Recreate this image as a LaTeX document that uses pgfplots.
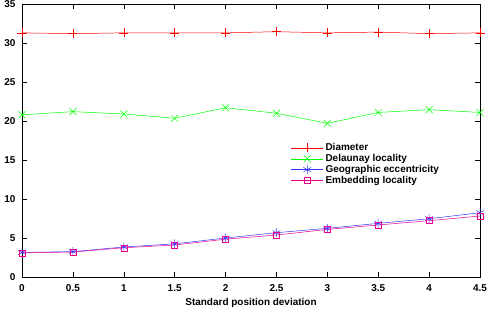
\documentclass[border=0pt]{standalone}
\usepackage{fontspec}
\setmainfont{Liberation Sans}
\usepackage{pgfplots}
\pgfplotsset{compat=1.18}
\begin{document}
\begin{tikzpicture}
\begin{axis}[
  name=main,
  scale only axis,
  width=458bp, height=273bp,
  xmin=0, xmax=4.5, ymin=0, ymax=35,
  xtick={0,0.5,...,4.5},
  xticklabels={0,0.5,1,1.5,2,2.5,3,3.5,4,4.5},
  ytick={0,5,...,35},
  tick align=inside,
  major tick length=5bp,
  axis line style={black, line width=0.6pt},
  tick style={black, line width=0.5pt},
  /pgf/number format/assume math mode=true,
  ticklabel style={font=\fontsize{10}{12}\selectfont\bfseries},
  xticklabel style={yshift=-4bp},
  yticklabel style={xshift=-3bp},
  xlabel={Standard position deviation},
  xlabel style={font=\fontsize{10}{12}\selectfont\bfseries, yshift=0bp},
  legend style={draw=none, fill=none, at={(rel axis cs:0.587,0.497)}, anchor=north west,
    font=\fontsize{10}{11}\selectfont\bfseries, row sep=-1.8bp, inner sep=0pt},
  legend cell align=left,
  legend image code/.code={
    \draw[#1, mark repeat=2, mark phase=2] plot coordinates {(0bp,0bp) (16bp,0bp) (32bp,0bp)};
  },
  every axis plot/.append style={line width=0.5pt, mark size=4.5bp},
  clip=false,
]
\addplot[color=red, mark=+, mark options={solid}] coordinates {
(0,31.3) (0.5,31.2) (1,31.3) (1.5,31.3) (2,31.3) (2.5,31.45) (3,31.3) (3.5,31.4) (4,31.2) (4.5,31.3)};
\addlegendentry{Diameter}
\addplot[color=green, mark=x, mark size=5bp] coordinates {
(0,20.8) (0.5,21.2) (1,20.9) (1.5,20.35) (2,21.7) (2.5,21.0) (3,19.7) (3.5,21.1) (4,21.45) (4.5,21.1)};
\addlegendentry{Delaunay locality}
\addplot[color=blue!80, mark=asterisk] coordinates {
(0,3.15) (0.5,3.25) (1,3.85) (1.5,4.25) (2,5.0) (2.5,5.68) (3,6.24) (3.5,6.88) (4,7.47) (4.5,8.24)};
\addlegendentry{Geographic eccentricity}
\addplot[color=magenta, mark=square, mark size=3bp] coordinates {
(0,3.1) (0.5,3.2) (1,3.75) (1.5,4.1) (2,4.85) (2.5,5.38) (3,6.1) (3.5,6.67) (4,7.22) (4.5,7.82)};
\addlegendentry{Embedding locality}
\end{axis}
\pgfresetboundingbox
\path (main.south west) ++(-22bp,-37bp) coordinate (bl);
\path (main.north east) ++(11bp,4bp) coordinate (tr);
\useasboundingbox (bl) rectangle (tr);
\end{tikzpicture}
\end{document}
